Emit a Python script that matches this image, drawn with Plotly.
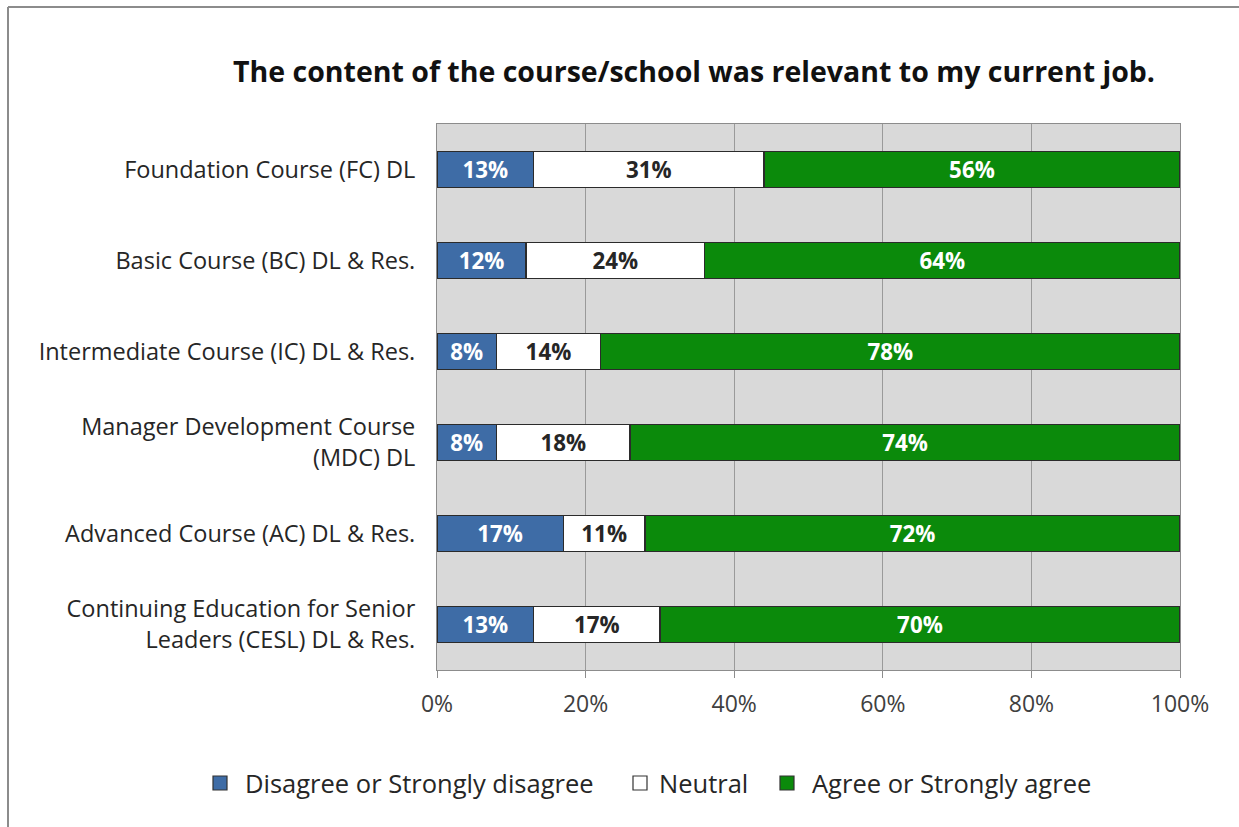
import plotly.graph_objects as go

courses = [
    "Foundation Course (FC) DL",
    "Basic Course (BC) DL & Res.",
    "Intermediate Course (IC) DL & Res.",
    "Manager Development Course<br>(MDC) DL",
    "Advanced Course (AC) DL & Res.",
    "Continuing Education for Senior<br>Leaders (CESL) DL & Res.",
]
disagree = [13, 12, 8, 8, 17, 13]
neutral = [31, 24, 14, 18, 11, 17]
agree = [56, 64, 78, 74, 72, 70]

series = [
    ("Disagree or Strongly disagree", disagree, "#3e6ca6", "white"),
    ("Neutral", neutral, "#ffffff", "#262626"),
    ("Agree or Strongly agree", agree, "#0b8a0b", "white"),
]

W, H = 1239, 827
L, R, T, B = 437, 1180, 124, 670

fig = go.Figure()
for name, vals, color, tcolor in series:
    fig.add_trace(go.Bar(
        name=name,
        y=courses,
        x=vals,
        orientation="h",
        marker=dict(color=color, line=dict(color="#2b2b2b", width=1.4)),
        text=[f"{v}%" for v in vals],
        textposition="inside",
        insidetextanchor="middle",
        textangle=0,
        textfont=dict(family="Open Sans", size=25, color=tcolor, weight="bold"),
        hoverinfo="skip",
        showlegend=False,
    ))

px2x = lambda px: (px - L) / (R - L)
py2y = lambda py: (B - py) / (B - T)

shapes = [
    dict(type="line", xref="paper", yref="paper",
         x0=px2x(8), x1=px2x(W + 5), y0=py2y(7), y1=py2y(7),
         line=dict(color="#8c8c8c", width=2)),
    dict(type="line", xref="paper", yref="paper",
         x0=px2x(8), x1=px2x(8), y0=py2y(7), y1=py2y(H + 5),
         line=dict(color="#8c8c8c", width=2)),
]

# Legend row drawn as swatches + labels so it stays on one line below the axis
legend_y = 783
swatch_x = [220, 640, 787]
label_x = [243, 657, 810]
annotations = []
for (name, _, color, _), sx, lx in zip(series, swatch_x, label_x):
    shapes.append(dict(
        type="rect", xref="paper", yref="paper",
        x0=px2x(sx - 7), x1=px2x(sx + 7),
        y0=py2y(legend_y + 7), y1=py2y(legend_y - 7),
        fillcolor=color, line=dict(color="#333333", width=1.2),
    ))
    annotations.append(dict(
        text=name, xref="paper", yref="paper",
        x=px2x(lx), y=py2y(legend_y), xanchor="left", yanchor="middle",
        showarrow=False,
        font=dict(family="Open Sans", size=25.5, color="#262626"),
    ))

fig.update_layout(
    width=W, height=H,
    margin=dict(l=L, r=W - R, t=T, b=H - B, autoexpand=False),
    paper_bgcolor="white",
    plot_bgcolor="#d9d9d9",
    barmode="stack",
    bargap=0.6,
    uniformtext=dict(minsize=10, mode="show"),
    title=dict(
        text="The content of the course/school was relevant to my current job.",
        x=px2x(694), xref="paper", xanchor="center",
        y=1 - 72 / H, yanchor="middle",
        font=dict(family="Open Sans", size=28.5, color="#111111", weight="bold"),
    ),
    xaxis=dict(
        range=[0, 100],
        tickvals=[0, 20, 40, 60, 80, 100],
        ticktext=["0%", "20%", "40%", "60%", "80%", "100%"],
        showgrid=True, gridcolor="#9a9a9a", gridwidth=1,
        ticks="outside", ticklen=7, tickcolor="#8c8c8c",
        ticklabelstandoff=6,
        showline=True, linecolor="#8c8c8c", mirror=True,
        tickfont=dict(family="Open Sans", size=23, color="#404040"),
        zeroline=False, fixedrange=True,
    ),
    yaxis=dict(
        autorange="reversed",
        showline=True, linecolor="#8c8c8c", mirror=True,
        ticks="", ticklabelstandoff=16,
        tickfont=dict(family="Open Sans", size=23.5, color="#262626"),
        fixedrange=True,
    ),
    shapes=shapes,
    annotations=annotations,
    showlegend=False,
)

fig.write_html("out.html")
